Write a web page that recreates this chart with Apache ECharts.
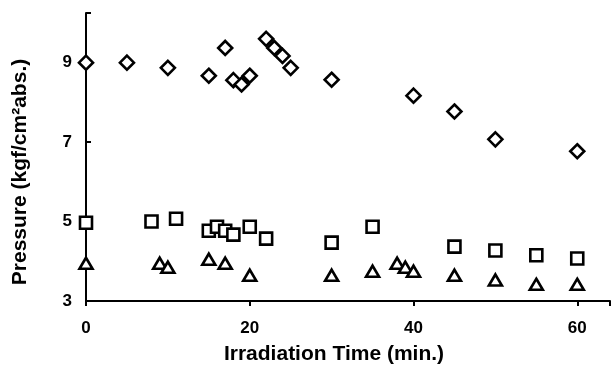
<!DOCTYPE html>
<html>
<head>
<meta charset="utf-8">
<script src="https://cdn.jsdelivr.net/npm/echarts@6/dist/echarts.min.js"></script>
<style>
  html, body { margin: 0; padding: 0; background: #fff; }
  #chart { width: 613px; height: 370px; }
</style>
</head>
<body>
<div id="chart"></div>
<script>
// diamonds (top series)
const diamondTime = [0, 5, 10, 15, 17, 18, 19, 20, 22, 23, 24, 25, 30, 40, 45, 50, 60];
const diamondPressure = [9.0, 9.0, 8.87, 8.67, 9.37, 8.56, 8.45, 8.67, 9.6, 9.37, 9.17, 8.87, 8.57, 8.17, 7.77, 7.07, 6.77];
// squares (middle series)
const squareTime = [0, 8, 11, 15, 16, 17, 18, 20, 22, 30, 35, 45, 50, 55, 60];
const squarePressure = [4.97, 5.0, 5.07, 4.77, 4.87, 4.77, 4.67, 4.87, 4.57, 4.47, 4.87, 4.37, 4.27, 4.15, 4.07];
// triangles (bottom series)
const triangleTime = [0, 9, 10, 15, 17, 20, 30, 35, 38, 39, 40, 45, 50, 55, 60];
const trianglePressure = [3.95, 3.95, 3.85, 4.05, 3.95, 3.65, 3.65, 3.75, 3.95, 3.85, 3.75, 3.65, 3.53, 3.42, 3.42];

const xTicks = [0, 20, 40, 60];
const yTicks = [3, 5, 7, 9];

const pairs = (xs, ys) => xs.map((x, i) => [x, ys[i]]);

const markerStyle = {
  color: '#fff',
  borderColor: '#000',
  borderWidth: 2.6,
  opacity: 1
};

const font = 'Liberation Sans';

const chart = echarts.init(document.getElementById('chart'));
chart.setOption({
  animation: false,
  grid: { left: 86, right: 0, top: 13, bottom: 67, containLabel: false },
  xAxis: {
    type: 'value',
    min: 0,
    max: 64,
    interval: 20,
    name: 'Irradiation Time (min.)',
    nameLocation: 'middle',
    nameGap: 43,
    nameTextStyle: { fontFamily: font, fontWeight: 'bold', fontSize: 21, color: '#000', padding: [0, 28, 0, 0] },
    axisLine: { lineStyle: { color: '#000', width: 2 } },
    axisTick: { show: true, length: 5, lineStyle: { color: '#000', width: 2 } },
    axisLabel: {
      fontFamily: font, fontWeight: 'bold', fontSize: 17, color: '#000', margin: 19,
      formatter: v => (xTicks.includes(v) ? String(v) : '')
    },
    splitLine: { show: false }
  },
  yAxis: {
    type: 'value',
    min: 3,
    max: 10.25,
    interval: 2,
    name: 'Pressure (kgf/cm²abs.)',
    nameLocation: 'middle',
    nameGap: 55,
    nameRotate: 90,
    nameTextStyle: { fontFamily: font, fontWeight: 'bold', fontSize: 21, color: '#000', padding: [0, 30, 0, 0] },
    axisLine: { show: true, lineStyle: { color: '#000', width: 2 } },
    axisTick: { show: true, inside: true, length: 5, lineStyle: { color: '#000', width: 2 } },
    axisLabel: {
      fontFamily: font, fontWeight: 'bold', fontSize: 17, color: '#000', margin: 14,
      formatter: v => (yTicks.includes(v) ? String(v) : '')
    },
    splitLine: { show: false }
  },
  series: [
    {
      type: 'scatter',
      symbol: 'diamond',
      symbolSize: [14, 14],
      data: pairs(diamondTime, diamondPressure),
      itemStyle: markerStyle,
      z: 3
    },
    {
      type: 'scatter',
      symbol: 'rect',
      symbolSize: 12,
      data: pairs(squareTime, squarePressure),
      itemStyle: markerStyle,
      z: 3
    },
    {
      type: 'scatter',
      symbol: 'triangle',
      symbolSize: [13, 11],
      data: pairs(triangleTime, trianglePressure),
      itemStyle: markerStyle,
      z: 3
    }
  ]
});
</script>
</body>
</html>
